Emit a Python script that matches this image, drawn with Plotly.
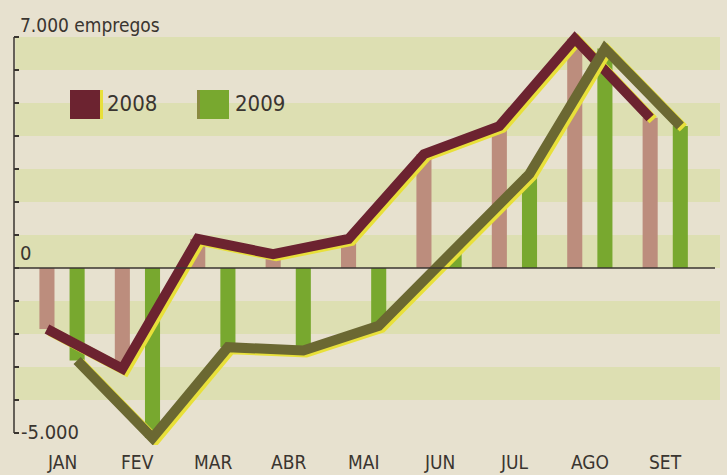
import plotly.graph_objects as go

months = ["JAN", "FEV", "MAR", "ABR", "MAI", "JUN", "JUL", "AGO", "SET"]
vals_2008 = [-1850, -3050, 880, 420, 880, 3450, 4300, 6950, 4550]
vals_2009 = [-2800, -5150, -2400, -2500, -1750, 500, 2850, 6650, 4300]
y_ticks = list(range(-5000, 7001, 1000))
stripe_bands = [(6000, 7000), (4000, 5000), (2000, 3000), (0, 1000), (-2000, -1000), (-4000, -3000)]

W, H = 727, 475
L, R, T, B = 14, 7, 29, 30
PW, PH = W - L - R, H - T - B
OFF = 0.2
XR = [-0.637, -0.637 + PW / 75.4]
PX_PER_UNIT = 396 / 12000
YR = [-5000 - (H - B - 433) / PX_PER_UNIT, 7000 + (37 - T) / PX_PER_UNIT]
px_x = (XR[1] - XR[0]) / PW
px_y = (YR[1] - YR[0]) / PH

BG = "#e7e1cf"
STRIPE = "#dddfb2"
C08 = "#6c2330"
C09 = "#6b6832"
B08 = "#bc8d7d"
B09 = "#78a82f"
SHADOW = "#e8e03a"
TXT = "#3a3530"
FONT = "Liberation Sans Narrow, DejaVu Sans Condensed, Roboto, sans-serif"
LW = 10

x08 = [i - OFF for i in range(len(months))]
x09 = [i + OFF for i in range(len(months))]

fig = go.Figure()
fig.add_trace(go.Bar(x=x08, y=vals_2008, width=0.2, marker=dict(color=B08, line=dict(width=0)),
                     showlegend=False, xaxis="x", yaxis="y"))
fig.add_trace(go.Bar(x=x09, y=vals_2009, width=0.2, marker=dict(color=B09, line=dict(width=0)),
                     showlegend=False, xaxis="x", yaxis="y"))

# shadow / main line pairs on overlay axes (drawn in axis order)
fig.add_trace(go.Scatter(x=x08, y=vals_2008, mode="lines", line=dict(color=SHADOW, width=LW),
                         showlegend=False, xaxis="x2", yaxis="y2"))
fig.add_trace(go.Scatter(x=x08, y=vals_2008, mode="lines", line=dict(color=C08, width=LW),
                         showlegend=False, xaxis="x3", yaxis="y3"))
fig.add_trace(go.Scatter(x=x09, y=vals_2009, mode="lines", line=dict(color=SHADOW, width=LW),
                         showlegend=False, xaxis="x4", yaxis="y4"))
fig.add_trace(go.Scatter(x=x09, y=vals_2009, mode="lines", line=dict(color=C09, width=LW),
                         showlegend=False, xaxis="x5", yaxis="y5"))

sdx, sdy = 3 * px_x, 2 * px_y
hidden = dict(visible=False, showgrid=False, zeroline=False, fixedrange=True)
fig.update_layout(
    xaxis=dict(range=XR, showgrid=False, zeroline=False, showticklabels=False, showline=False, ticks=""),
    yaxis=dict(range=YR, showgrid=False, zeroline=False, showticklabels=False, showline=False,
               ticks="inside", ticklen=5, tickwidth=1.5, tickcolor=TXT, tickvals=y_ticks),
    xaxis2=dict(range=[XR[0] - sdx, XR[1] - sdx], overlaying="x", **hidden),
    yaxis2=dict(range=[YR[0] + sdy, YR[1] + sdy], overlaying="y", **hidden),
    xaxis3=dict(range=XR, overlaying="x", **hidden),
    yaxis3=dict(range=YR, overlaying="y", **hidden),
    xaxis4=dict(range=[XR[0] - sdx, XR[1] - sdx], overlaying="x", **hidden),
    yaxis4=dict(range=[YR[0] + sdy, YR[1] + sdy], overlaying="y", **hidden),
    xaxis5=dict(range=XR, overlaying="x", **hidden),
    yaxis5=dict(range=YR, overlaying="y", **hidden),
)

def px2paper_x(p):
    return (p - L) / PW

def px2paper_y(p):
    return (H - B - p) / PH

shapes = []
for lo, hi in stripe_bands:
    shapes.append(dict(type="rect", xref="paper", yref="y", x0=0.002, x1=1.0, y0=lo, y1=hi,
                       fillcolor=STRIPE, line=dict(width=0), layer="below"))
shapes.append(dict(type="line", xref="paper", yref="y", x0=0, x1=px2paper_x(715), y0=0, y1=0,
                   line=dict(color=TXT, width=1.5), layer="above"))
# y axis line from -5000 to 7000
shapes.append(dict(type="line", xref="paper", yref="y", x0=0, x1=0, y0=y_ticks[0], y1=y_ticks[-1],
                   line=dict(color=TXT, width=1.5), layer="above"))
# legend squares
for x0, x1, col in [(70, 100, C08), (199, 229, B09)]:
    shapes.append(dict(type="rect", xref="paper", yref="paper",
                       x0=px2paper_x(x0), x1=px2paper_x(x1), y0=px2paper_y(119), y1=px2paper_y(90),
                       fillcolor=col, line=dict(width=0), layer="above"))
shapes.append(dict(type="rect", xref="paper", yref="paper",
                   x0=px2paper_x(100), x1=px2paper_x(103), y0=px2paper_y(119), y1=px2paper_y(90),
                   fillcolor=SHADOW, line=dict(width=0), layer="above"))
shapes.append(dict(type="rect", xref="paper", yref="paper",
                   x0=px2paper_x(197), x1=px2paper_x(200), y0=px2paper_y(119), y1=px2paper_y(90),
                   fillcolor="#8a8a40", line=dict(width=0), layer="above"))

ann = []
def text(s, xp, yp, size=19, xanchor="left", xref="paper"):
    ann.append(dict(text=s, x=xp, y=yp, xref=xref, yref="paper", showarrow=False,
                    xanchor=xanchor, yanchor="middle", font=dict(family=FONT, size=size, color=TXT)))

text("7.000 empregos", px2paper_x(18), px2paper_y(25), 19)
text("0", px2paper_x(18), px2paper_y(253), 20)
text("-5.000", px2paper_x(19), px2paper_y(432), 20)
text("2008", px2paper_x(105), px2paper_y(103), 22)
text("2009", px2paper_x(233), px2paper_y(103), 22)
for i, m in enumerate(months):
    text(m, i, px2paper_y(462), 19, xanchor="center", xref="x")

fig.update_layout(
    width=W, height=H,
    margin=dict(l=L, r=R, t=T, b=B, pad=0),
    paper_bgcolor=BG, plot_bgcolor=BG,
    shapes=shapes, annotations=ann,
    barmode="overlay", showlegend=False,
)
fig.write_html("out.html")
